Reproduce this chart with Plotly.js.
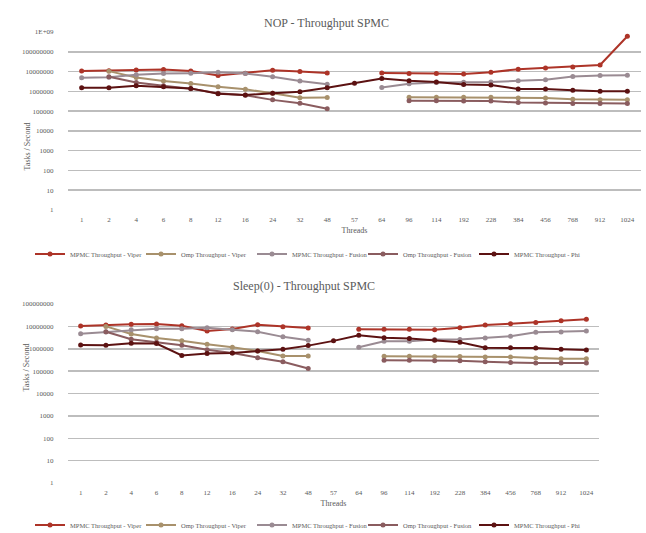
<!DOCTYPE html>
<html>
<head>
<meta charset="utf-8">
<script src="https://cdn.plot.ly/plotly-3.0.1.min.js"></script>
<style>html,body{margin:0;padding:0;background:#fff;}#chart{width:646px;height:533px;}</style>
</head>
<body>
<div id="chart"></div>
<script>
const categories = ['1','2','4','6','8','12','16','24','32','48','57','64','96','114','192','228','384','456','768','912','1024'];
const seriesNames = ['MPMC Throughput - Viper','Omp Throughput - Viper','MPMC Throughput - Fusion','Omp Throughput - Fusion','MPMC Throughput - Phi'];

// NOP chart
const nopMpmcViper = [1.08e7,1.1e7,1.21e7,1.26e7,1.08e7,6.3e6,8.3e6,1.17e7,1.0e7,8.4e6,null,8.5e6,7.9e6,7.9e6,7.6e6,9.3e6,1.31e7,1.53e7,1.72e7,2.17e7,6.1e8];
const nopOmpViper = [null,1.05e7,5.0e6,3.3e6,2.5e6,1.7e6,1.26e6,7.9e5,4.8e5,4.9e5,null,null,5.0e5,5.0e5,5.0e5,5.0e5,4.6e5,4.6e5,4.0e5,3.8e5,3.7e5];
const nopMpmcFusion = [4.8e6,5.2e6,6.8e6,8.0e6,8.3e6,9.2e6,8.0e6,5.4e6,3.3e6,2.3e6,null,1.55e6,2.4e6,2.8e6,2.9e6,3.0e6,3.4e6,3.9e6,5.6e6,6.3e6,6.5e6];
const nopOmpFusion = [null,5.5e6,2.8e6,1.9e6,1.36e6,7.9e5,6.3e5,3.7e5,2.5e5,1.33e5,null,null,3.3e5,3.3e5,3.2e5,3.2e5,2.7e5,2.6e5,2.4e5,2.4e5,2.4e5];
const nopMpmcPhi = [1.52e6,1.52e6,1.9e6,1.7e6,1.41e6,7.6e5,6.6e5,7.9e5,9.6e5,1.53e6,2.6e6,4.4e6,3.4e6,3.0e6,2.2e6,2.1e6,1.3e6,1.3e6,1.12e6,1.0e6,1.0e6];

// Sleep(0) chart
const sleepMpmcViper = [1.03e7,1.15e7,1.23e7,1.27e7,1.07e7,6.2e6,7.6e6,1.19e7,9.7e6,8.4e6,null,7.4e6,7.4e6,7.4e6,7.1e6,8.7e6,1.15e7,1.31e7,1.5e7,1.79e7,2.1e7];
const sleepOmpViper = [null,1.0e7,4.6e6,3.0e6,2.3e6,1.58e6,1.17e6,8.0e5,4.8e5,4.8e5,null,null,4.6e5,4.6e5,4.5e5,4.5e5,4.3e5,4.3e5,3.9e5,3.6e5,3.6e5];
const sleepMpmcFusion = [4.7e6,5.6e6,7.1e6,7.9e6,7.9e6,8.7e6,7.1e6,5.8e6,3.4e6,2.4e6,null,1.17e6,2.15e6,2.15e6,2.6e6,2.6e6,3.0e6,3.6e6,5.4e6,5.6e6,6.2e6];
const sleepOmpFusion = [null,5.8e6,2.65e6,1.95e6,1.43e6,9.0e5,6.5e5,4.0e5,2.6e5,1.3e5,null,null,3.1e5,3.1e5,2.9e5,2.9e5,2.6e5,2.4e5,2.3e5,2.3e5,2.3e5];
const sleepMpmcPhi = [1.48e6,1.43e6,1.76e6,1.7e6,5.0e5,6.1e5,6.5e5,8.0e5,9.5e5,1.38e6,2.25e6,4.0e6,3.1e6,2.9e6,2.4e6,1.95e6,1.1e6,1.1e6,1.07e6,9.5e5,8.9e5];

const topTickVals = [1,10,100,1000,10000,100000,1000000,10000000,100000000,1000000000];
const topTickText = ['1','10','100','1000','10000','100000','1000000','10000000','100000000','1E+09'];
const botTickVals = [1,10,100,1000,10000,100000,1000000,10000000,100000000];
const botTickText = ['1','10','100','1000','10000','100000','1000000','10000000','100000000'];

const colors = ['#ad3428','#a8916c','#9a8b93','#8a5c5f','#5c1212'];
const FONT = 'Liberation Serif, DejaVu Serif, serif';
const TXT = '#5a5a5a';

const nopSeries = [nopMpmcViper,nopOmpViper,nopMpmcFusion,nopOmpFusion,nopMpmcPhi];
const sleepSeries = [sleepMpmcViper,sleepOmpViper,sleepMpmcFusion,sleepOmpFusion,sleepMpmcPhi];

const traces = [];
nopSeries.forEach((s,i)=>{
  traces.push({type:'scatter',mode:'lines+markers',x:categories,y:s,name:seriesNames[i],
    xaxis:'x',yaxis:'y',legend:'legend',connectgaps:false,
    line:{color:colors[i],width:2},marker:{color:colors[i],size:5}});
});
sleepSeries.forEach((s,i)=>{
  traces.push({type:'scatter',mode:'lines+markers',x:categories,y:s,name:seriesNames[i],
    xaxis:'x2',yaxis:'y2',legend:'legend2',connectgaps:false,
    line:{color:colors[i],width:2},marker:{color:colors[i],size:5}});
});

const W=646,H=533;
function xd(a,b){return [a/W,b/W];}
function yd(top,bottom){return [1-bottom/H,1-top/H];}

const xCommon = {type:'category',categoryorder:'array',categoryarray:categories,range:[-0.5,20.5],
  showgrid:false,zeroline:false,showline:false,ticks:'outside',ticklen:3,tickcolor:'rgba(0,0,0,0)',
  tickfont:{family:FONT,size:7,color:TXT},fixedrange:true,
  title:{text:'Threads',standoff:3,font:{family:FONT,size:8,color:TXT}},automargin:false};
const yCommon = {type:'log',showgrid:true,gridcolor:'#bdbdbd',gridwidth:1.5,zeroline:false,showline:false,
  ticks:'outside',ticklen:12,tickcolor:'rgba(0,0,0,0)',tickfont:{family:FONT,size:7,color:TXT},fixedrange:true};

const legendCommon = {orientation:'h',x:30/W,xanchor:'left',yanchor:'middle',
  font:{family:FONT,size:6.5,color:TXT},itemwidth:30,entrywidth:66,entrywidthmode:'pixels',
  bgcolor:'rgba(0,0,0,0)',tracegroupgap:0};

const layout = {
  width:W,height:H,margin:{l:0,r:0,t:0,b:0,autoexpand:false},paper_bgcolor:'#fff',plot_bgcolor:'#fff',
  showlegend:true,
  xaxis:Object.assign({},xCommon,{domain:xd(68,641),anchor:'y'}),
  yaxis:Object.assign({},yCommon,{domain:yd(32,210),anchor:'x',range:[0,9],tickvals:topTickVals,ticktext:topTickText}),
  xaxis2:Object.assign({},xCommon,{domain:xd(68,599),anchor:'y2'}),
  yaxis2:Object.assign({},yCommon,{domain:yd(304,483),anchor:'x2',range:[0,8],tickvals:botTickVals,ticktext:botTickText}),
  legend:Object.assign({},legendCommon,{y:1-254/H}),
  legend2:Object.assign({},legendCommon,{y:1-525/H}),
  annotations:[
    {text:'NOP - Throughput SPMC',x:326/W,y:1-14/H,xref:'paper',yref:'paper',showarrow:false,font:{family:FONT,size:12,color:TXT}},
    {text:'Sleep(0) - Throughput SPMC',x:304/W,y:1-286/H,xref:'paper',yref:'paper',showarrow:false,font:{family:FONT,size:12,color:TXT}},
    {text:'Tasks / Second',x:20/W,y:1-121/H,xref:'paper',yref:'paper',showarrow:false,textangle:-90,font:{family:FONT,size:8,color:TXT}},
    {text:'Tasks / Second',x:19/W,y:1-394/H,xref:'paper',yref:'paper',showarrow:false,textangle:-90,font:{family:FONT,size:8,color:TXT}}
  ]
};

Plotly.newPlot('chart',traces,layout,{displayModeBar:false,staticPlot:true});
</script>
</body>
</html>
